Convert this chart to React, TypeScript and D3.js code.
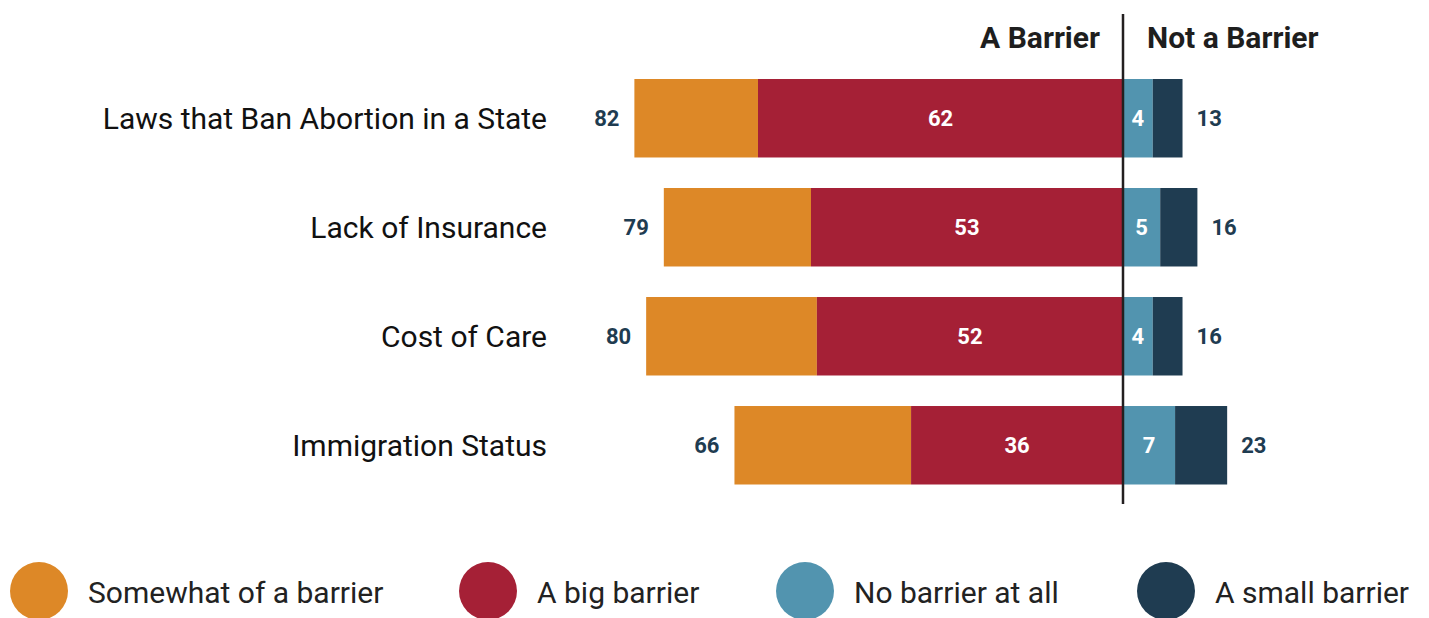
import React from "react";
import * as d3 from "d3";

const categories = [
  "Laws that Ban Abortion in a State",
  "Lack of Insurance",
  "Cost of Care",
  "Immigration Status",
];
const bigBarrier = [62, 53, 52, 36];
const somewhatBarrier = [21, 25, 29, 30];
const barrierTotal = [82, 79, 80, 66];
const noBarrier = [4, 5, 4, 7];
// dark segment as drawn in the reference (same length as "no barrier")
const smallBarrierShown = [4, 5, 4, 7];
const notBarrierTotal = [13, 16, 16, 23];
const legendLabels = ["Somewhat of a barrier", "A big barrier", "No barrier at all", "A small barrier"];
const headers = ["A Barrier", "Not a Barrier"];

const COLORS = {
  somewhat: "#DD8827",
  big: "#A52036",
  none: "#5294AF",
  small: "#1F3C51",
};
const FONT = "Roboto, 'Noto Sans', sans-serif";

export default function App() {
  const W = 1429;
  const H = 618;
  const cx = 1123;

  const y = d3.scaleBand<string>().domain(categories).range([79, 484.5]).paddingInner(0.28).paddingOuter(0);
  const xL = d3.scaleLinear().domain([0, 100]).range([0, 588.7]);
  const xR = d3.scaleLinear().domain([0, 100]).range([0, 744]);
  const bw = y.bandwidth();

  const legendX = [39, 488, 805, 1166];
  const legendColors = [COLORS.somewhat, COLORS.big, COLORS.none, COLORS.small];

  return (
    <svg
      width={W}
      height={H}
      style={{ position: "absolute", left: 0, top: 0, display: "block" }}
      fontFamily={FONT}
    >
      <rect width={W} height={H} fill="#fff" />
      {/* headers */}
      <text x={cx - 23} y={47.5} textAnchor="end" fontSize={30} fontWeight={700} fill="#1e1e1e">
        {headers[0]}
      </text>
      <text x={cx + 24} y={47.5} textAnchor="start" fontSize={30} fontWeight={700} fill="#1e1e1e">
        {headers[1]}
      </text>

      {categories.map((c, i) => {
        const y0 = y(c)!;
        const ym = y0 + bw / 2;
        const bigW = xL(bigBarrier[i]);
        const someW = xL(somewhatBarrier[i]);
        const noneW = xR(noBarrier[i]);
        const smallW = xR(smallBarrierShown[i]);
        const leftEdge = cx - bigW - someW;
        const rightEdge = cx + noneW + smallW;
        return (
          <g key={c}>
            <text x={547} y={ym} dy="0.36em" textAnchor="end" fontSize={30} fill="#111">
              {c}
            </text>
            <rect x={cx - bigW - someW} y={y0} width={someW} height={bw} fill={COLORS.somewhat} />
            <rect x={cx - bigW} y={y0} width={bigW} height={bw} fill={COLORS.big} />
            <rect x={cx} y={y0} width={noneW} height={bw} fill={COLORS.none} />
            <rect x={cx + noneW} y={y0} width={smallW} height={bw} fill={COLORS.small} />
            <text x={leftEdge - 15} y={ym} dy="0.36em" textAnchor="end" fontSize={22} fontWeight={700} fill={COLORS.small}>
              {barrierTotal[i]}
            </text>
            <text x={cx - bigW / 2} y={ym} dy="0.36em" textAnchor="middle" fontSize={22} fontWeight={700} fill="#fff">
              {bigBarrier[i]}
            </text>
            <text x={cx + noneW / 2} y={ym} dy="0.36em" textAnchor="middle" fontSize={22} fontWeight={700} fill="#fff">
              {noBarrier[i]}
            </text>
            <text x={rightEdge + 14} y={ym} dy="0.36em" textAnchor="start" fontSize={22} fontWeight={700} fill={COLORS.small}>
              {notBarrierTotal[i]}
            </text>
          </g>
        );
      })}

      <line x1={cx} x2={cx} y1={14} y2={504} stroke="#231f20" strokeWidth={2.5} />

      {legendLabels.map((l, i) => (
        <g key={l}>
          <circle cx={legendX[i]} cy={591} r={29} fill={legendColors[i]} />
          <text x={legendX[i] + 49} y={592} dy="0.36em" fontSize={30} fill="#222">
            {l}
          </text>
        </g>
      ))}
    </svg>
  );
}
